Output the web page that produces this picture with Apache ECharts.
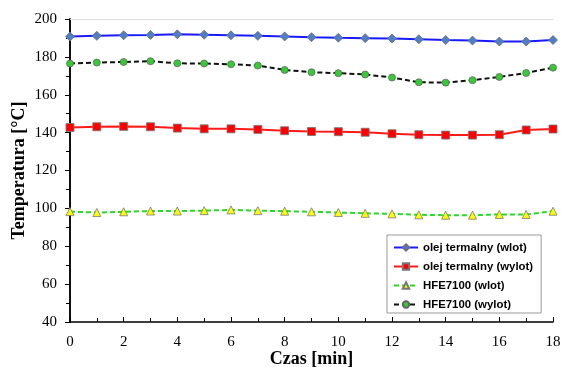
<!DOCTYPE html>
<html><head><meta charset="utf-8">
<script src="https://cdn.jsdelivr.net/npm/echarts@6/dist/echarts.min.js"></script>
<style>html,body{margin:0;padding:0;background:#fff}#c{width:562px;height:367px}</style>
</head><body><div id="c"></div>
<script>
const times = [0,1,2,3,4,5,6,7,8,9,10,11,12,13,14,15,16,17,18];
const olejWlot = [190.7,191.1,191.4,191.6,191.9,191.7,191.4,191.1,190.8,190.4,190.1,189.9,189.7,189.3,188.9,188.6,188.1,188.1,188.9];
const olejWylot = [142.7,143.1,143.3,143.1,142.4,142.0,142.0,141.7,141.0,140.6,140.5,140.2,139.4,138.9,138.7,138.7,138.9,141.4,141.9];
const hfeWlot = [98.3,97.8,98.2,98.6,98.6,98.8,99.2,98.8,98.5,98.2,97.8,97.4,97.1,96.6,96.4,96.4,96.8,96.8,98.5];
const hfeWylot = [176.5,177.0,177.3,177.7,176.6,176.5,176.1,175.4,173.1,171.9,171.4,170.7,169.1,166.6,166.4,167.7,169.4,171.5,174.3];
const seriesNames = ['olej termalny (wlot)','olej termalny (wylot)','HFE7100 (wlot)','HFE7100 (wylot)'];
const xTitle = 'Czas [min]';
const yTitle = 'Temperatura [\u00B0C]';

const pair = arr => arr.map((v,i)=>[times[i], v]);
const chart = echarts.init(document.getElementById('c'), null, {renderer:'canvas'});
const serif = '"Liberation Serif","Times New Roman",serif';
chart.setOption({
  animation:false,
  grid:{left:70, right:9, top:19, bottom:45, show:false, containLabel:false, outerBoundsMode:'none'},
  legend:{
    orient:'vertical', left:387, top:235,
    backgroundColor:'#fff', borderColor:'#999', borderWidth:1,
    padding:[7,8,3,6], itemGap:8, itemWidth:24, itemHeight:8,
    textStyle:{fontFamily:'"Liberation Sans",Arial,sans-serif', fontWeight:'bold', fontSize:11.4, color:'#000'},
    data:seriesNames
  },
  xAxis:[{
    type:'value', min:0, max:18, interval:2,
    axisLine:{show:true, lineStyle:{color:'#000', width:1.5}},
    axisTick:{show:true, length:5, inside:true, lineStyle:{color:'#000'}},
    minorTick:{show:true, splitNumber:2, length:4, lineStyle:{color:'#000'}},
    splitLine:{show:false},
    axisLabel:{fontFamily:serif, fontSize:15, color:'#000', margin:13},
    name:xTitle, nameLocation:'middle', nameGap:37, nameMoveOverlap:false,
    nameTextStyle:{fontFamily:serif, fontSize:18, fontWeight:'bold', color:'#000', verticalAlign:'middle'}
  },{
    type:'value', min:0, max:18, position:'top',
    axisLine:{show:true, lineStyle:{color:'#ddd', width:1}},
    axisTick:{show:false}, axisLabel:{show:false}, splitLine:{show:false}
  }],
  yAxis:[{
    type:'value', min:40, max:200, interval:20,
    axisLine:{show:true, lineStyle:{color:'#000', width:1.5}},
    axisTick:{show:true, length:5, lineStyle:{color:'#000'}},
    minorTick:{show:true, splitNumber:2, length:4, lineStyle:{color:'#000'}},
    splitLine:{show:false},
    axisLabel:{fontFamily:serif, fontSize:15, color:'#000', margin:13},
    name:yTitle, nameLocation:'middle', nameGap:51, nameMoveOverlap:false,
    nameTextStyle:{fontFamily:serif, fontSize:18, fontWeight:'bold', color:'#000', verticalAlign:'middle'}
  },{
    type:'value', min:40, max:200, position:'right',
    axisLine:{show:true, lineStyle:{color:'#000', width:1.5}},
    axisTick:{show:false}, axisLabel:{show:false}, splitLine:{show:false}
  }],
  series:[
    {name:seriesNames[0], type:'line', data:pair(olejWlot), symbol:'diamond', symbolSize:9,
     lineStyle:{color:'#1a1aff', width:2}, itemStyle:{color:'#4F7FBF', borderColor:'#6a6a8a', borderWidth:0.8}},
    {name:seriesNames[1], type:'line', data:pair(olejWylot), symbol:'rect', symbolSize:8,
     lineStyle:{color:'#ff1a1a', width:2}, itemStyle:{color:'#ff0000', borderColor:'#777', borderWidth:0.8}},
    {name:seriesNames[2], type:'line', data:pair(hfeWlot), symbol:'triangle', symbolSize:8,
     lineStyle:{color:'#22dd22', width:2, type:[5,3]}, itemStyle:{color:'#ffff00', borderColor:'#777', borderWidth:0.8}},
    {name:seriesNames[3], type:'line', data:pair(hfeWylot), symbol:'circle', symbolSize:7,
     lineStyle:{color:'#111', width:2, type:[5,3]}, itemStyle:{color:'#33cc33', borderColor:'#666', borderWidth:0.8}}
  ]
});
</script></body></html>
